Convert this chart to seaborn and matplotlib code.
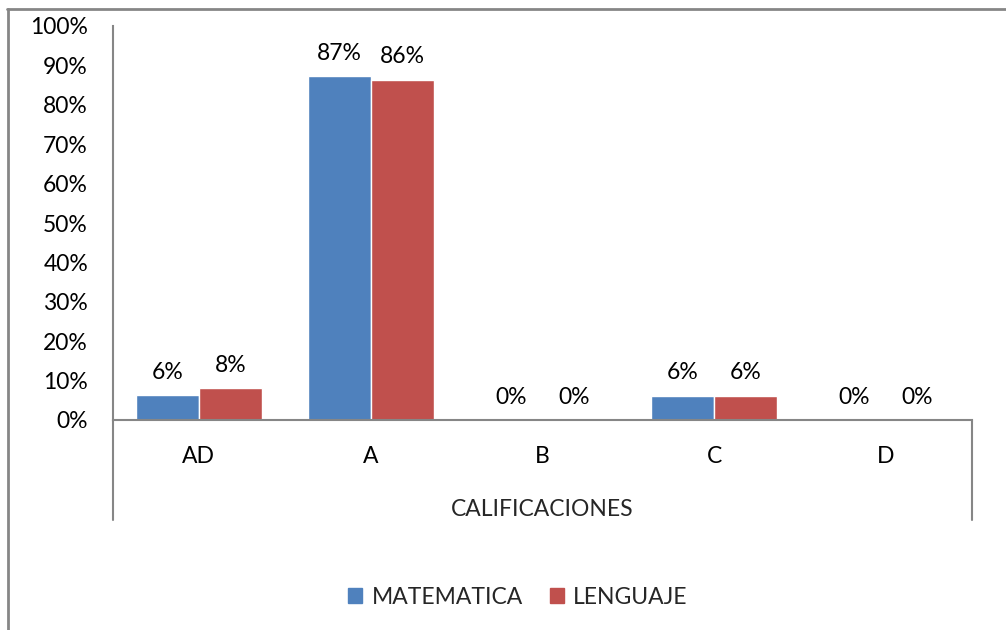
import pandas as pd
import numpy as np
import matplotlib.pyplot as plt
import seaborn as sns
from matplotlib.lines import Line2D
from matplotlib.ticker import MultipleLocator, FuncFormatter

categorias = ["AD", "A", "B", "C", "D"]
matematica = [6.3, 87.3, 0.0, 6.2, 0.0]
lenguaje = [8.1, 86.3, 0.0, 6.2, 0.0]
series = ["MATEMATICA", "LENGUAJE"]
colores = ["#4F81BD", "#C0504D"]
gris = "#868686"
fs = 16.5


def main():
    df = pd.DataFrame({
        "cat": categorias * 2,
        "valor": matematica + lenguaje,
        "serie": [series[0]] * len(categorias) + [series[1]] * len(categorias),
    })

    sns.set_style("white")
    plt.rcParams["font.family"] = ["Lato", "DejaVu Sans"]

    W, H = 1006, 630
    fig = plt.figure(figsize=(W / 100, H / 100), dpi=100)
    ax = fig.add_axes([113 / W, 1 - 420 / H, (972 - 113) / W, (420 - 26) / H])

    sns.barplot(data=df, x="cat", y="valor", hue="serie", order=categorias,
                hue_order=series, palette=colores, width=0.733, gap=0,
                saturation=1, ax=ax, legend=False)

    for cont in ax.containers:
        ax.bar_label(cont, labels=[f"{v:.0f}%" for v in cont.datavalues],
                     padding=9, fontsize=fs, color="black")

    ax.set_ylim(0, 100)
    ax.yaxis.set_major_locator(MultipleLocator(10))
    ax.yaxis.set_major_formatter(FuncFormatter(lambda v, p: f"{v:.0f}%"))
    ax.tick_params(axis="y", length=0, pad=18, labelsize=fs, labelcolor="black")
    ax.tick_params(axis="x", length=0, pad=18.5, labelsize=fs, labelcolor="black")
    ax.set_xlabel("CALIFICACIONES", fontsize=fs, labelpad=23)
    ax.set_ylabel("")

    for s in ["top", "right"]:
        ax.spines[s].set_visible(False)
    for s in ["left", "bottom"]:
        ax.spines[s].set_color(gris)
        ax.spines[s].set_linewidth(1.5)

    # separadores del eje de categorias
    bajo = -(520 - 420) / (420 - 26)
    for xa in [0, 1]:
        ax.add_line(Line2D([xa, xa], [0, bajo], transform=ax.transAxes,
                           color=gris, lw=1.5, clip_on=False))

    # borde exterior del grafico
    fig.add_artist(Line2D([7 / W, 1], [1 - 9 / H, 1 - 9 / H], color=gris, lw=2))
    fig.add_artist(Line2D([8 / W, 8 / W], [1 - 9 / H, 0], color=gris, lw=2))

    handles = [plt.Rectangle((0, 0), 1, 1, color=c) for c in colores]
    fig.legend(handles, series, loc="center", bbox_to_anchor=(518 / W, 1 - 597 / H),
               ncol=2, frameon=False, fontsize=fs, handlelength=0.6,
               handleheight=0.6, handletextpad=0.4, columnspacing=1.2)

    plt.savefig("out.png", dpi=100)


if __name__ == "__main__":
    main()
